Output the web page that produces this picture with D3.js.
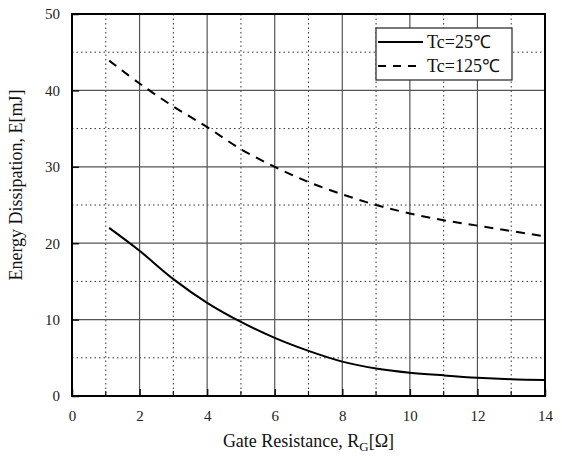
<!DOCTYPE html>
<html>
<head>
<meta charset="utf-8">
<script src="https://cdn.jsdelivr.net/npm/d3@7"></script>
<style>
  body { margin: 0; background: #fff; }
</style>
</head>
<body>
<div id="chart"></div>
<script>
// values
var rg = [1.1, 2, 3, 4, 5, 6, 7, 8, 9, 10, 11, 12, 13, 14];
var e25 = [22.0, 19.0, 15.3, 12.2, 9.7, 7.6, 5.9, 4.5, 3.6, 3.05, 2.7, 2.4, 2.2, 2.1];
var e125 = [43.9, 40.9, 37.9, 35.2, 32.3, 30.0, 28.0, 26.4, 25.0, 23.9, 23.0, 22.3, 21.6, 20.9];
var seriesNames = ["Tc=25\u2103", "Tc=125\u2103"];
var xTicks = [0, 2, 4, 6, 8, 10, 12, 14];
var yTicks = [0, 10, 20, 30, 40, 50];

var serif = "'Liberation Serif', 'Times New Roman', Times, serif";

function main() {
    var margin = {top: 14, right: 17, bottom: 60, left: 72},
        width = 562 - margin.left - margin.right,
        height = 456 - margin.top - margin.bottom;

    var xScale = d3.scaleLinear().domain([0, 14]).range([0, width]);
    var yScale = d3.scaleLinear().domain([0, 50]).range([height, 0]);

    var svg = d3.select("#chart").append("svg")
        .attr("width", 562)
        .attr("height", 456)
        .append("g")
        .attr("transform", "translate(" + margin.left + "," + margin.top + ")");

    // minor dotted grid
    var minorX = d3.range(1, 14, 2);
    var minorY = d3.range(5, 50, 10);
    svg.selectAll(".mx").data(minorX).enter().append("line")
        .attr("x1", d => xScale(d)).attr("x2", d => xScale(d))
        .attr("y1", 0).attr("y2", height)
        .attr("stroke", "#333").attr("stroke-width", 1)
        .attr("stroke-dasharray", "1.5,3");
    svg.selectAll(".my").data(minorY).enter().append("line")
        .attr("x1", 0).attr("x2", width)
        .attr("y1", d => yScale(d)).attr("y2", d => yScale(d))
        .attr("stroke", "#333").attr("stroke-width", 1)
        .attr("stroke-dasharray", "1.5,3");

    // major solid grid
    svg.selectAll(".gx").data(xTicks.slice(1, -1)).enter().append("line")
        .attr("x1", d => xScale(d)).attr("x2", d => xScale(d))
        .attr("y1", 0).attr("y2", height)
        .attr("stroke", "#555").attr("stroke-width", 1.2);
    svg.selectAll(".gy").data(yTicks.slice(1, -1)).enter().append("line")
        .attr("x1", 0).attr("x2", width)
        .attr("y1", d => yScale(d)).attr("y2", d => yScale(d))
        .attr("stroke", "#555").attr("stroke-width", 1.2);

    // axes with inward ticks
    var xAxis = svg.append("g")
        .attr("transform", "translate(0," + height + ")")
        .call(d3.axisBottom(xScale).tickValues(xTicks).tickSize(-7).tickPadding(14));
    var yAxis = svg.append("g")
        .call(d3.axisLeft(yScale).tickValues(yTicks).tickSize(-7).tickPadding(12));
    [xAxis, yAxis].forEach(function(a) {
        a.attr("font-family", serif).attr("font-size", 15);
        a.select(".domain").remove();
        a.selectAll("line").attr("stroke", "#111").attr("stroke-width", 1.5);
        a.selectAll("text").attr("fill", "#222");
    });
    // minor tick stubs on bottom
    svg.selectAll(".mt").data(minorX).enter().append("line")
        .attr("x1", d => xScale(d)).attr("x2", d => xScale(d))
        .attr("y1", height).attr("y2", height - 5)
        .attr("stroke", "#111").attr("stroke-width", 1.2);

    // frame
    svg.append("rect")
        .attr("width", width).attr("height", height)
        .attr("fill", "none").attr("stroke", "#000").attr("stroke-width", 2);

    var line = d3.line()
        .x(d => xScale(d[0]))
        .y(d => yScale(d[1]))
        .curve(d3.curveCatmullRom.alpha(0.5));

    svg.append("path")
        .datum(rg.map((r, i) => [r, e25[i]]))
        .attr("d", line).attr("fill", "none")
        .attr("stroke", "#000").attr("stroke-width", 2);
    svg.append("path")
        .datum(rg.map((r, i) => [r, e125[i]]))
        .attr("d", line).attr("fill", "none")
        .attr("stroke", "#000").attr("stroke-width", 2)
        .attr("stroke-dasharray", "9,7");

    // legend
    var leg = svg.append("g")
        .attr("transform", "translate(" + (376 - margin.left) + "," + (28 - margin.top) + ")")
        .attr("font-family", serif);
    leg.append("rect").attr("width", 136).attr("height", 52)
        .attr("fill", "#fff").attr("stroke", "#222").attr("stroke-width", 1.2);
    seriesNames.forEach(function(name, i) {
        var y = 14 + i * 24;
        leg.append("line").attr("x1", 2).attr("x2", 47).attr("y1", y).attr("y2", y)
            .attr("stroke", "#000").attr("stroke-width", 2)
            .attr("stroke-dasharray", i === 1 ? "8,7" : null);
        leg.append("text").attr("x", 51).attr("y", y + 6)
            .attr("font-size", 18).attr("fill", "#111").text(name);
    });

    // axis titles
    var xt = svg.append("text")
        .attr("text-anchor", "middle")
        .attr("x", width / 2).attr("y", height + 51)
        .attr("font-family", serif).attr("font-size", 18).attr("fill", "#111");
    xt.append("tspan").text("Gate Resistance, R");
    xt.append("tspan").attr("dy", 4).attr("font-size", 13).text("G");
    xt.append("tspan").attr("dy", -4).text("[\u03A9]");

    svg.append("text")
        .attr("text-anchor", "middle")
        .attr("transform", "rotate(-90)")
        .attr("x", -height / 2 + 20).attr("y", -50)
        .attr("font-family", serif).attr("font-size", 18).attr("fill", "#111")
        .text("Energy Dissipation, E[mJ]");
}
main();
</script>
</body>
</html>
